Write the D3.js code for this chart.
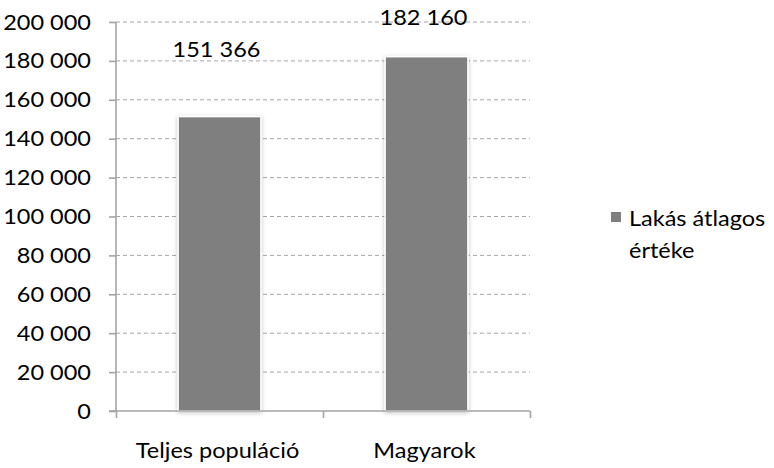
<!DOCTYPE html>
<html>
<head>
<meta charset="utf-8">
<script src="https://cdn.jsdelivr.net/npm/d3@7"></script>
<style>
  html, body { margin: 0; padding: 0; background: #ffffff; }
  svg { display: block; }
  text { font-family: Lato, "Open Sans", sans-serif; fill: #000; }
</style>
</head>
<body>
<svg id="chart" width="774" height="468"></svg>
<script>
// Lakás átlagos értéke csoportonként
const categories = ["Teljes populáció", "Magyarok"];
const values = [151366, 182160];
const valueLabels = ["151 366", "182 160"];
const yTicks = [0, 20000, 40000, 60000, 80000, 100000, 120000, 140000, 160000, 180000, 200000];
const yTickLabels = ["0", "20 000", "40 000", "60 000", "80 000", "100 000", "120 000", "140 000", "160 000", "180 000", "200 000"];
const seriesName = ["Lakás átlagos", "értéke"];

const svg = d3.select("#chart");
const plot = { left: 116, right: 530, top: 22, bottom: 411 };
const fontSize = 21;
const stretch = 1.12;
const axisColor = "#a3a3a3";

const x = d3.scaleBand().domain(categories).range([plot.left, plot.right]).paddingInner(0.6).paddingOuter(0.3);
const y = d3.scaleLinear().domain([0, 200000]).range([plot.bottom, plot.top]);

// soft shadow behind the bars
const defs = svg.append("defs");
const f = defs.append("filter").attr("id", "shadow").attr("x", "-20%").attr("y", "-20%").attr("width", "140%").attr("height", "140%");
f.append("feDropShadow").attr("dx", 0).attr("dy", 1).attr("stdDeviation", 2).attr("flood-color", "#000").attr("flood-opacity", 0.25);

function label(g, tx, ty, str, anchor) {
  return g.append("text")
    .attr("transform", `translate(${tx},${ty}) scale(${stretch},1)`)
    .attr("text-anchor", anchor)
    .style("font-size", fontSize + "px")
    .text(str);
}

// dashed gridlines
svg.append("g").selectAll("line").data(yTicks.slice(1)).join("line")
  .attr("x1", plot.left).attr("x2", plot.right)
  .attr("y1", d => y(d)).attr("y2", d => y(d))
  .attr("stroke", "#a6a6a6").attr("stroke-width", 1)
  .attr("stroke-dasharray", "4,3");

// y axis
const yAxis = d3.axisLeft(y).tickValues(yTicks).tickSize(7).tickFormat("");
const gy = svg.append("g").attr("transform", `translate(${plot.left},0)`).call(yAxis);
gy.select(".domain").attr("stroke", axisColor).attr("stroke-width", 1.6).attr("d", `M0,${plot.bottom}V${plot.top}`);
gy.selectAll(".tick line").attr("stroke", axisColor).attr("stroke-width", 1.6);
yTicks.forEach((t, i) => label(svg, 91, y(t) + 7.5, yTickLabels[i], "end"));

// bars
svg.append("g").selectAll("rect").data(values).join("rect")
  .attr("x", (d, i) => x(categories[i]))
  .attr("width", x.bandwidth())
  .attr("y", d => y(d))
  .attr("height", d => y(0) - y(d))
  .attr("fill", "#7f7f7f")
  .attr("stroke", "#ffffff").attr("stroke-width", 1.5)
  .attr("filter", "url(#shadow)");

// x axis
const xAxis = d3.axisBottom(d3.scaleLinear().domain([0, 2]).range([plot.left, plot.right]))
  .tickValues([0, 1, 2]).tickSize(7).tickFormat("");
const gx = svg.append("g").attr("transform", `translate(0,${plot.bottom})`).call(xAxis);
gx.select(".domain").attr("stroke", axisColor).attr("stroke-width", 1.6).attr("d", `M${plot.left - 7},0H${plot.right}`);
gx.selectAll(".tick line").attr("stroke", axisColor).attr("stroke-width", 1.6);
categories.forEach(c => label(svg, x(c) + x.bandwidth() / 2 - 2, 458, c, "middle"));

// value labels above the bars
const labelLift = [60, 32];
values.forEach((v, i) => label(svg, x(categories[i]) + x.bandwidth() / 2 - 3, y(v) - labelLift[i], valueLabels[i], "middle"));

// legend
svg.append("rect").attr("x", 611).attr("y", 212).attr("width", 10).attr("height", 10).attr("fill", "#7f7f7f");
label(svg, 629, 226, seriesName[0], "start");
label(svg, 629, 258, seriesName[1], "start");
</script>
</body>
</html>
